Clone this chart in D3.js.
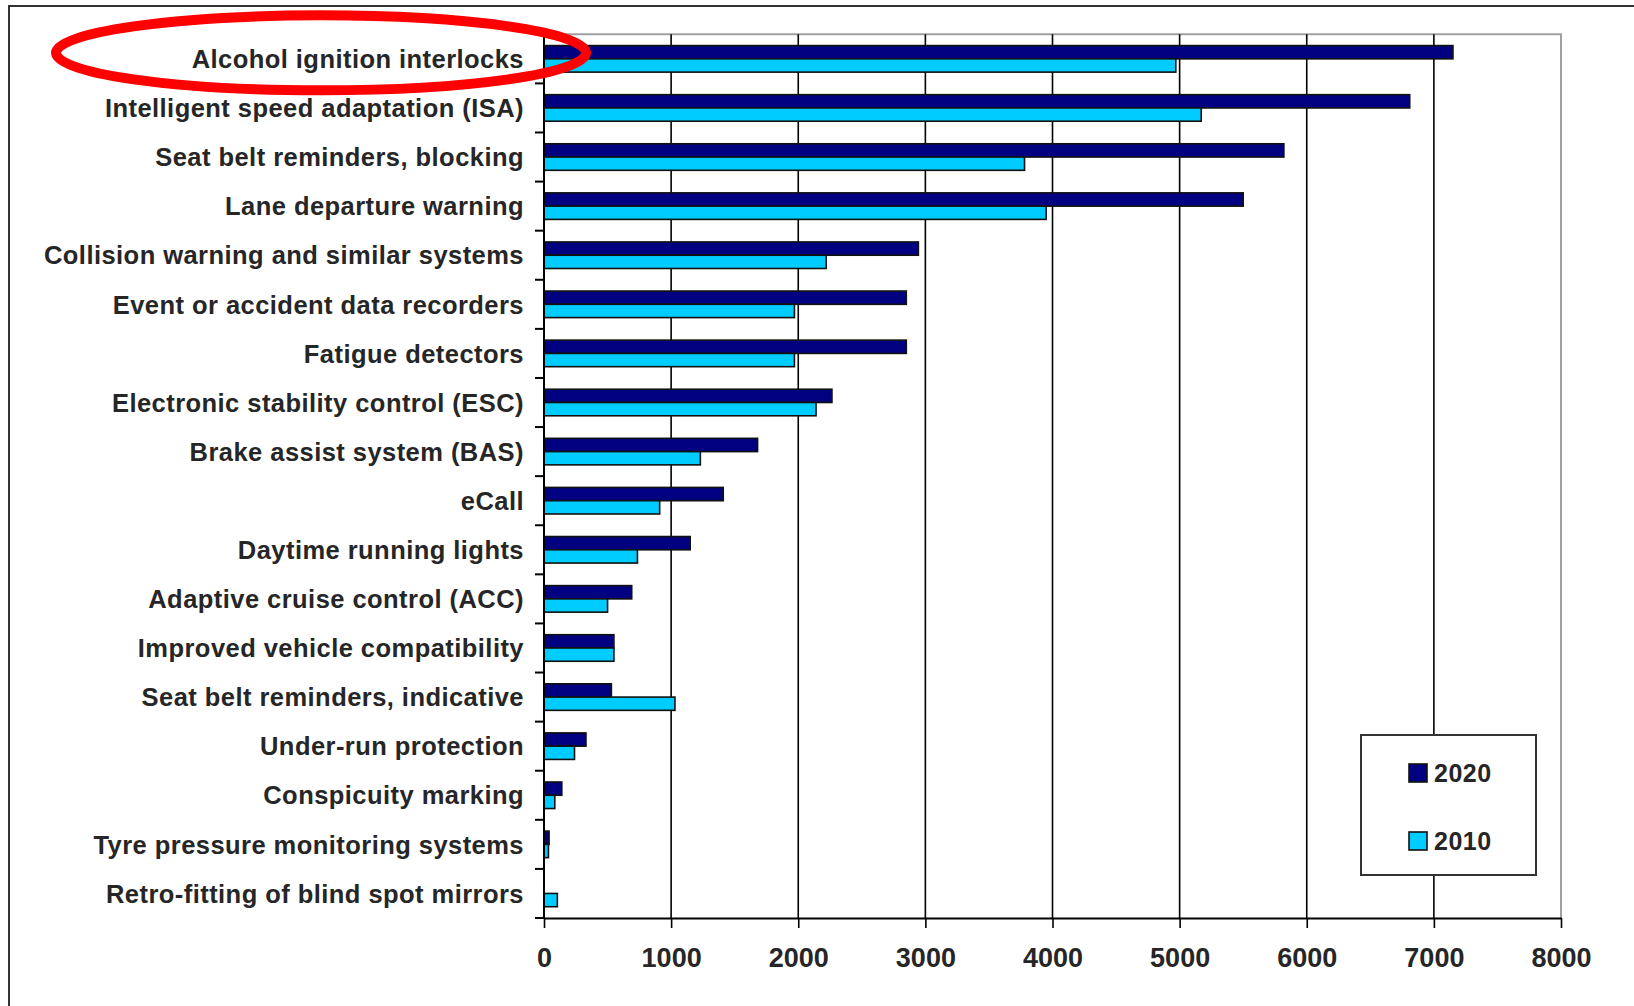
<!DOCTYPE html>
<html>
<head>
<meta charset="utf-8">
<script src="https://cdn.jsdelivr.net/npm/d3@7"></script>
<style>
  body { margin: 0; background: #fff; }
  text { font-family: "Liberation Sans", Arial, sans-serif; }
</style>
</head>
<body>
<script>
// categories, top to bottom
var categories = [
  "Alcohol ignition interlocks",
  "Intelligent speed adaptation (ISA)",
  "Seat belt reminders, blocking",
  "Lane departure warning",
  "Collision warning and similar systems",
  "Event or accident data recorders",
  "Fatigue detectors",
  "Electronic stability control (ESC)",
  "Brake assist system (BAS)",
  "eCall",
  "Daytime running lights",
  "Adaptive cruise control (ACC)",
  "Improved vehicle compatibility",
  "Seat belt reminders, indicative",
  "Under-run protection",
  "Conspicuity marking",
  "Tyre pressure monitoring systems",
  "Retro-fitting of blind spot mirrors"
];

// series values
var values2020 = [7150, 6810, 5820, 5500, 2945, 2850, 2850, 2265, 1680, 1410, 1150, 690, 550, 530, 330, 140, 40, 0];
var values2010 = [4970, 5170, 3780, 3950, 2220, 1970, 1970, 2140, 1230, 910, 735, 500, 550, 1030, 240, 85, 35, 105];

var seriesNames = ["2020", "2010"];
var xTicks = [0, 1000, 2000, 3000, 4000, 5000, 6000, 7000, 8000];

var colors = {"2020": "#000080", "2010": "#00ccff"};

// set the dimensions
var W = 1634, H = 1006;
var margin = {top: 34.3, left: 544, right: 1561, bottom: 918};

var svg = d3.select("body").append("svg")
    .attr("width", W)
    .attr("height", H);

// outer frame (cropped)
svg.append("rect")
    .attr("x", 9).attr("y", 6)
    .attr("width", 2000).attr("height", 2000)
    .style("fill", "none")
    .style("stroke", "#333")
    .style("stroke-width", 2);

// scales
var x = d3.scaleLinear().domain([0, 8000]).range([margin.left, margin.right]);
var y0 = d3.scaleBand().domain(categories).range([margin.top, margin.bottom]).paddingInner(0);
var y1 = d3.scaleBand().domain(seriesNames).range([0, y0.bandwidth()]).paddingInner(0).paddingOuter(0.85);

// plot frame, top and right in grey
svg.append("path")
    .attr("d", "M" + x(0) + "," + margin.top + "H" + x(8000) + "V" + margin.bottom)
    .style("fill", "none")
    .style("stroke", "#a0a0a0")
    .style("stroke-width", 2);

// vertical grid lines
svg.append("g")
  .selectAll("line")
  .data(xTicks.slice(1, -1))
  .enter().append("line")
    .attr("x1", function(d) { return x(d); })
    .attr("x2", function(d) { return x(d); })
    .attr("y1", margin.top)
    .attr("y2", margin.bottom)
    .style("stroke", "#000")
    .style("stroke-width", 1.6);

// table of rows
var rows = categories.map(function(c, i) {
  return {cat: c, vals: [{k: "2020", v: values2020[i]}, {k: "2010", v: values2010[i]}]};
});

// bars
var groups = svg.append("g")
  .selectAll("g")
  .data(rows)
  .enter().append("g")
    .attr("transform", function(d) { return "translate(0," + y0(d.cat) + ")"; });

groups.selectAll("rect")
  .data(function(d) { return d.vals.filter(function(e) { return e.v > 0; }); })
  .enter().append("rect")
    .attr("x", x(0))
    .attr("y", function(d) { return y1(d.k); })
    .attr("width", function(d) { return x(d.v) - x(0); })
    .attr("height", y1.bandwidth())
    .style("fill", function(d) { return colors[d.k]; })
    .style("stroke", "#111")
    .style("stroke-width", 1.6);

// y axis: labels
var yAxis = svg.append("g")
    .attr("transform", "translate(" + margin.left + ",0)")
    .call(d3.axisLeft(y0).tickSize(0).tickPadding(20));
yAxis.select(".domain").remove();
yAxis.selectAll("text")
    .attr("dy", "0.36em")
    .attr("font-size", 25.5)
    .attr("font-weight", "bold")
    .attr("letter-spacing", 0.45)
    .style("fill", "#262626");

// y axis: line and ticks at band boundaries
var bounds = categories.map(function(c) { return y0(c); }).concat([margin.bottom]);
svg.append("g")
  .selectAll("line")
  .data(bounds)
  .enter().append("line")
    .attr("x1", margin.left - 9)
    .attr("x2", margin.left)
    .attr("y1", function(d) { return d; })
    .attr("y2", function(d) { return d; })
    .style("stroke", "#000")
    .style("stroke-width", 2);
svg.append("line")
    .attr("x1", margin.left).attr("x2", margin.left)
    .attr("y1", margin.top).attr("y2", margin.bottom)
    .style("stroke", "#000")
    .style("stroke-width", 2);

// x axis
var xAxis = svg.append("g")
    .attr("transform", "translate(0," + margin.bottom + ")")
    .call(d3.axisBottom(x).tickValues(xTicks).tickFormat(d3.format("d"))
          .tickSize(10).tickSizeOuter(0).tickPadding(20));
xAxis.select(".domain").style("stroke", "#000").style("stroke-width", 2);
xAxis.selectAll(".tick line").style("stroke", "#000").style("stroke-width", 1.6);
xAxis.selectAll("text")
    .attr("font-size", 27)
    .attr("font-weight", "bold")
    .style("fill", "#262626");

// legend
var legend = svg.append("g").attr("transform", "translate(1361,735)");
legend.append("rect")
    .attr("width", 175).attr("height", 140)
    .style("fill", "#fff")
    .style("stroke", "#333")
    .style("stroke-width", 2);
seriesNames.forEach(function(s, i) {
  legend.append("rect")
      .attr("x", 48).attr("y", 29 + i * 68)
      .attr("width", 18).attr("height", 18)
      .style("fill", colors[s])
      .style("stroke", "#111")
      .style("stroke-width", 1.6);
  legend.append("text")
      .attr("x", 73).attr("y", 47 + i * 68)
      .attr("font-size", 25)
      .attr("font-weight", "bold")
      .attr("letter-spacing", 0.5)
      .style("fill", "#262626")
      .text(s);
});

// red highlight ellipse around the first category
svg.append("ellipse")
    .attr("cx", 321)
    .attr("cy", y0(categories[0]) + y0.bandwidth() / 2 - 6)
    .attr("rx", 265)
    .attr("ry", 37.5)
    .style("fill", "none")
    .style("stroke", "#f00")
    .style("stroke-width", 10);
</script>
</body>
</html>
